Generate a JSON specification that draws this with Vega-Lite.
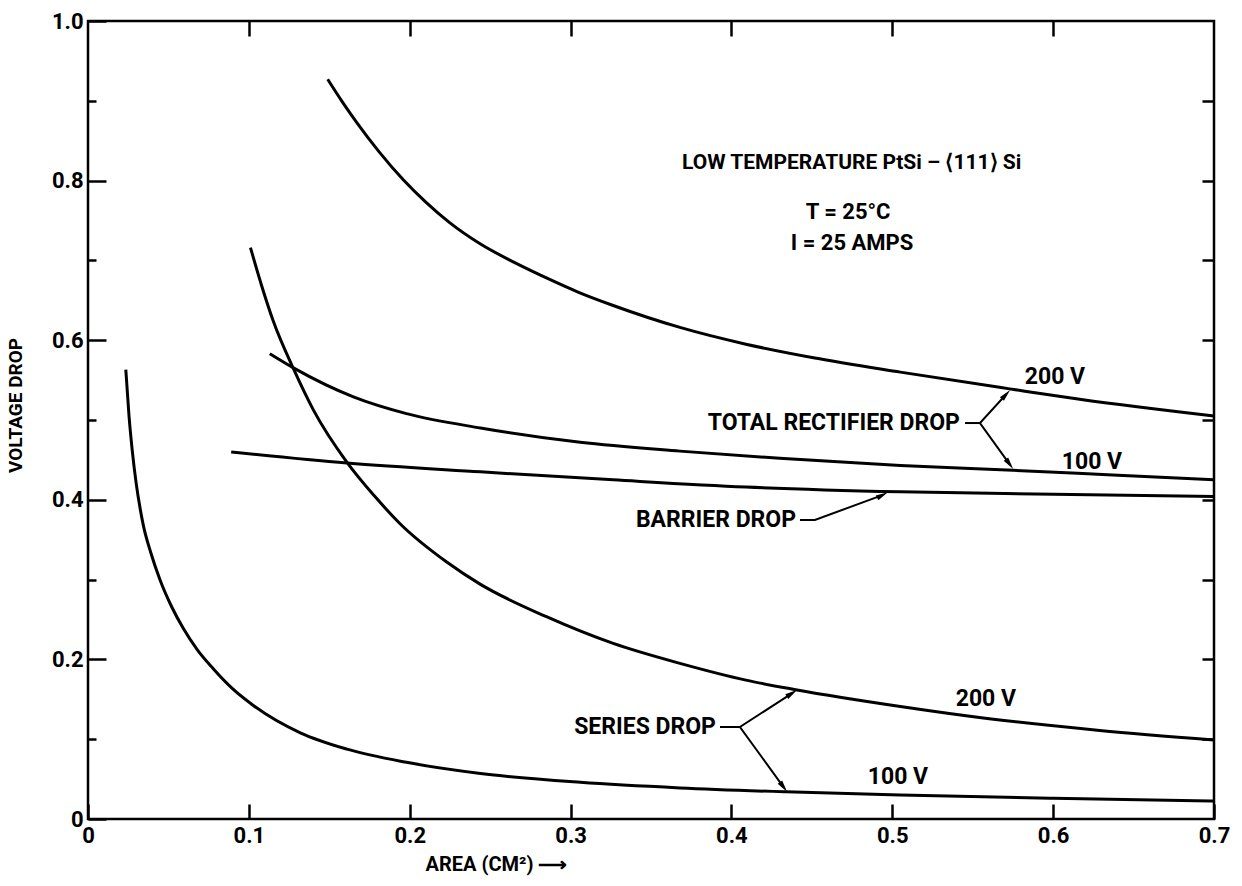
{
  "$schema": "https://vega.github.io/schema/vega-lite/v6.json",
  "width": 1126,
  "height": 798,
  "autosize": {"type": "none"},
  "padding": {"left": 88, "top": 21, "right": 28, "bottom": 67},
  "background": "white",
  "config": {
    "view": {"stroke": "black", "strokeWidth": 2.5},
    "font": "Roboto",
    "axis": {"grid": false, "domain": false, "tickColor": "black", "tickWidth": 2.5, "labelColor": "black", "titleColor": "black"}
  },
  "datasets": {
    "curves": [
      {"curve": "total_200", "x": 0.149, "y": 0.927},
      {"curve": "total_200", "x": 0.158, "y": 0.899},
      {"curve": "total_200", "x": 0.167, "y": 0.873},
      {"curve": "total_200", "x": 0.181, "y": 0.836},
      {"curve": "total_200", "x": 0.196, "y": 0.801},
      {"curve": "total_200", "x": 0.210, "y": 0.773},
      {"curve": "total_200", "x": 0.225, "y": 0.747},
      {"curve": "total_200", "x": 0.244, "y": 0.7205},
      {"curve": "total_200", "x": 0.265, "y": 0.6975},
      {"curve": "total_200", "x": 0.285, "y": 0.678},
      {"curve": "total_200", "x": 0.305, "y": 0.660},
      {"curve": "total_200", "x": 0.3265, "y": 0.6435},
      {"curve": "total_200", "x": 0.368, "y": 0.616},
      {"curve": "total_200", "x": 0.409, "y": 0.595},
      {"curve": "total_200", "x": 0.451, "y": 0.578},
      {"curve": "total_200", "x": 0.505, "y": 0.560},
      {"curve": "total_200", "x": 0.573, "y": 0.539},
      {"curve": "total_200", "x": 0.6165, "y": 0.526},
      {"curve": "total_200", "x": 0.7, "y": 0.505},

      {"curve": "total_100", "x": 0.113, "y": 0.583},
      {"curve": "total_100", "x": 0.128, "y": 0.565},
      {"curve": "total_100", "x": 0.165, "y": 0.529},
      {"curve": "total_100", "x": 0.198, "y": 0.508},
      {"curve": "total_100", "x": 0.244, "y": 0.490},
      {"curve": "total_100", "x": 0.306, "y": 0.472},
      {"curve": "total_100", "x": 0.368, "y": 0.461},
      {"curve": "total_100", "x": 0.430, "y": 0.452},
      {"curve": "total_100", "x": 0.505, "y": 0.443},
      {"curve": "total_100", "x": 0.575, "y": 0.437},
      {"curve": "total_100", "x": 0.637, "y": 0.431},
      {"curve": "total_100", "x": 0.7, "y": 0.425},

      {"curve": "barrier", "x": 0.089, "y": 0.460},
      {"curve": "barrier", "x": 0.161, "y": 0.446},
      {"curve": "barrier", "x": 0.244, "y": 0.435},
      {"curve": "barrier", "x": 0.3265, "y": 0.425},
      {"curve": "barrier", "x": 0.409, "y": 0.416},
      {"curve": "barrier", "x": 0.505, "y": 0.410},
      {"curve": "barrier", "x": 0.6, "y": 0.407},
      {"curve": "barrier", "x": 0.7, "y": 0.404},

      {"curve": "series_200", "x": 0.101, "y": 0.716},
      {"curve": "series_200", "x": 0.108, "y": 0.668},
      {"curve": "series_200", "x": 0.115, "y": 0.625},
      {"curve": "series_200", "x": 0.128, "y": 0.563},
      {"curve": "series_200", "x": 0.140, "y": 0.513},
      {"curve": "series_200", "x": 0.161, "y": 0.447},
      {"curve": "series_200", "x": 0.178, "y": 0.405},
      {"curve": "series_200", "x": 0.194, "y": 0.370},
      {"curve": "series_200", "x": 0.223, "y": 0.322},
      {"curve": "series_200", "x": 0.244, "y": 0.294},
      {"curve": "series_200", "x": 0.285, "y": 0.2535},
      {"curve": "series_200", "x": 0.3265, "y": 0.220},
      {"curve": "series_200", "x": 0.368, "y": 0.195},
      {"curve": "series_200", "x": 0.409, "y": 0.174},
      {"curve": "series_200", "x": 0.440, "y": 0.162},
      {"curve": "series_200", "x": 0.505, "y": 0.141},
      {"curve": "series_200", "x": 0.559, "y": 0.126},
      {"curve": "series_200", "x": 0.629, "y": 0.111},
      {"curve": "series_200", "x": 0.7, "y": 0.099},

      {"curve": "series_100", "x": 0.0235, "y": 0.563},
      {"curve": "series_100", "x": 0.0255, "y": 0.505},
      {"curve": "series_100", "x": 0.0275, "y": 0.462},
      {"curve": "series_100", "x": 0.030, "y": 0.420},
      {"curve": "series_100", "x": 0.0325, "y": 0.388},
      {"curve": "series_100", "x": 0.0344, "y": 0.368},
      {"curve": "series_100", "x": 0.039, "y": 0.334},
      {"curve": "series_100", "x": 0.0448, "y": 0.2995},
      {"curve": "series_100", "x": 0.052, "y": 0.266},
      {"curve": "series_100", "x": 0.0592, "y": 0.239},
      {"curve": "series_100", "x": 0.068, "y": 0.212},
      {"curve": "series_100", "x": 0.078, "y": 0.188},
      {"curve": "series_100", "x": 0.090, "y": 0.163},
      {"curve": "series_100", "x": 0.103, "y": 0.142},
      {"curve": "series_100", "x": 0.132, "y": 0.108},
      {"curve": "series_100", "x": 0.161, "y": 0.0875},
      {"curve": "series_100", "x": 0.198, "y": 0.071},
      {"curve": "series_100", "x": 0.244, "y": 0.057},
      {"curve": "series_100", "x": 0.306, "y": 0.046},
      {"curve": "series_100", "x": 0.368, "y": 0.039},
      {"curve": "series_100", "x": 0.434, "y": 0.034},
      {"curve": "series_100", "x": 0.505, "y": 0.030},
      {"curve": "series_100", "x": 0.6, "y": 0.026},
      {"curve": "series_100", "x": 0.7, "y": 0.0226}
    ],
    "leaders": [
      {"seg": "total_dash", "o": 0, "x": 0.5452, "y": 0.4962},
      {"seg": "total_dash", "o": 1, "x": 0.5545, "y": 0.4962},
      {"seg": "total_fork", "o": 0, "x": 0.5707, "y": 0.5320},
      {"seg": "total_fork", "o": 1, "x": 0.5545, "y": 0.4962},
      {"seg": "total_fork", "o": 2, "x": 0.5729, "y": 0.4447},
      {"seg": "barrier", "o": 0, "x": 0.4426, "y": 0.3747},
      {"seg": "barrier", "o": 1, "x": 0.4519, "y": 0.3747},
      {"seg": "barrier", "o": 2, "x": 0.4939, "y": 0.4059},
      {"seg": "series_dash", "o": 0, "x": 0.3929, "y": 0.1153},
      {"seg": "series_dash", "o": 1, "x": 0.4053, "y": 0.1153},
      {"seg": "series_fork", "o": 0, "x": 0.4376, "y": 0.1575},
      {"seg": "series_fork", "o": 1, "x": 0.4053, "y": 0.1153},
      {"seg": "series_fork", "o": 2, "x": 0.4324, "y": 0.0400}
    ],
    "heads": [
      {"head": "total_200", "x": 0.5707, "y": 0.5320},
      {"head": "total_100", "x": 0.5729, "y": 0.4447},
      {"head": "barrier", "x": 0.4939, "y": 0.4059},
      {"head": "series_200", "x": 0.4376, "y": 0.1575},
      {"head": "series_100", "x": 0.4324, "y": 0.0400}
    ],
    "callouts": [
      {"text": "TOTAL RECTIFIER DROP", "x": 0.5433, "y": 0.4962},
      {"text": "BARRIER DROP", "x": 0.4414, "y": 0.3747},
      {"text": "SERIES DROP", "x": 0.3916, "y": 0.1153}
    ],
    "voltages": [
      {"text": "200 V", "x": 0.6011, "y": 0.5539},
      {"text": "100 V", "x": 0.6241, "y": 0.4474},
      {"text": "200 V", "x": 0.5582, "y": 0.1504},
      {"text": "100 V", "x": 0.5035, "y": 0.0526}
    ],
    "conditions": [
      {"text": "T = 25°C", "x": 0.4725, "y": 0.7607},
      {"text": "I = 25 AMPS", "x": 0.475, "y": 0.7218}
    ],
    "heading": [
      {"text": "LOW TEMPERATURE PtSi – ⟨111⟩ Si", "x": 0.3693, "y": 0.822}
    ]
  },
  "resolve": {"axis": {"x": "independent", "y": "independent"}},
  "layer": [
    {
      "data": {"name": "curves"},
      "mark": {"type": "line", "color": "black", "strokeWidth": 3, "interpolate": "monotone"},
      "encoding": {
        "x": {
          "field": "x", "type": "quantitative",
          "scale": {"domain": [0, 0.7], "nice": false, "zero": false},
          "axis": {
            "orient": "bottom",
            "values": [0, 0.1, 0.2, 0.3, 0.4, 0.5, 0.6, 0.7],
            "labelExpr": "datum.value == 0 ? '0' : format(datum.value, '.1f')",
            "tickSize": -15,
            "labelPadding": 21,
            "labelFont": "Roboto",
            "labelFontWeight": "bold",
            "labelFontSize": 22,
            "labelFlush": false,
            "title": "AREA (CM²)  ⟶",
            "titleFont": "Roboto",
            "titleFontWeight": "bold",
            "titleFontSize": 20,
            "titleAlign": "left",
            "titleAnchor": "start",
            "titleBaseline": "middle",
            "titleX": 337,
            "titleY": 45
          }
        },
        "y": {
          "field": "y", "type": "quantitative",
          "scale": {"domain": [0, 1], "nice": false, "zero": false},
          "axis": {
            "orient": "left",
            "values": [0, 0.1, 0.2, 0.3, 0.4, 0.5, 0.6, 0.7, 0.8, 0.9, 1.0],
            "labelExpr": "round(datum.value * 10) % 2 == 0 ? (datum.value == 0 ? '0' : format(datum.value, '.1f')) : ''",
            "tickSize": {"condition": {"test": "round(datum.value * 10) % 2 == 0", "value": -18}, "value": -8},
            "labelPadding": {"condition": {"test": "round(datum.value * 10) % 2 == 0", "value": 23}, "value": 13},
            "labelFont": "Roboto",
            "labelFontWeight": "bold",
            "labelFontSize": 22,
            "labelFlush": false,
            "title": "VOLTAGE DROP",
            "titleFont": "Roboto",
            "titleFontWeight": "bold",
            "titleFontSize": 19,
            "titleAngle": -90,
            "titleAlign": "center",
            "titleBaseline": "middle",
            "titleX": -73,
            "titleY": 384
          }
        },
        "detail": {"field": "curve"}
      }
    },
    {
      "data": {"name": "curves"},
      "mark": {"type": "point", "opacity": 0},
      "encoding": {
        "x": {
          "field": "x", "type": "quantitative",
          "axis": {"orient": "top", "values": [0.1, 0.2, 0.3, 0.4, 0.5, 0.6], "tickSize": -15, "labels": false, "title": null}
        },
        "y": {
          "field": "y", "type": "quantitative",
          "axis": {"orient": "right", "values": [0.1, 0.2, 0.3, 0.4, 0.5, 0.6, 0.7, 0.8, 0.9], "tickSize": -12, "labels": false, "title": null}
        }
      }
    },
    {
      "data": {"name": "leaders"},
      "mark": {"type": "line", "color": "black", "strokeWidth": 2},
      "encoding": {
        "x": {"field": "x", "type": "quantitative", "axis": null},
        "y": {"field": "y", "type": "quantitative", "axis": null},
        "detail": {"field": "seg"},
        "order": {"field": "o"}
      }
    },
    {
      "data": {"name": "heads"},
      "transform": [{"filter": "datum.head == 'total_200'"}],
      "mark": {"type": "point", "shape": "M0,-1L0.45,1L-0.45,1Z", "filled": true, "color": "black", "opacity": 1, "size": 150, "angle": 42},
      "encoding": {"x": {"field": "x", "type": "quantitative", "axis": null}, "y": {"field": "y", "type": "quantitative", "axis": null}}
    },
    {
      "data": {"name": "heads"},
      "transform": [{"filter": "datum.head == 'total_100'"}],
      "mark": {"type": "point", "shape": "M0,-1L0.45,1L-0.45,1Z", "filled": true, "color": "black", "opacity": 1, "size": 150, "angle": 144},
      "encoding": {"x": {"field": "x", "type": "quantitative", "axis": null}, "y": {"field": "y", "type": "quantitative", "axis": null}}
    },
    {
      "data": {"name": "heads"},
      "transform": [{"filter": "datum.head == 'barrier'"}],
      "mark": {"type": "point", "shape": "M0,-1L0.45,1L-0.45,1Z", "filled": true, "color": "black", "opacity": 1, "size": 150, "angle": 63},
      "encoding": {"x": {"field": "x", "type": "quantitative", "axis": null}, "y": {"field": "y", "type": "quantitative", "axis": null}}
    },
    {
      "data": {"name": "heads"},
      "transform": [{"filter": "datum.head == 'series_200'"}],
      "mark": {"type": "point", "shape": "M0,-1L0.45,1L-0.45,1Z", "filled": true, "color": "black", "opacity": 1, "size": 150, "angle": 57},
      "encoding": {"x": {"field": "x", "type": "quantitative", "axis": null}, "y": {"field": "y", "type": "quantitative", "axis": null}}
    },
    {
      "data": {"name": "heads"},
      "transform": [{"filter": "datum.head == 'series_100'"}],
      "mark": {"type": "point", "shape": "M0,-1L0.45,1L-0.45,1Z", "filled": true, "color": "black", "opacity": 1, "size": 150, "angle": 144},
      "encoding": {"x": {"field": "x", "type": "quantitative", "axis": null}, "y": {"field": "y", "type": "quantitative", "axis": null}}
    },
    {
      "data": {"name": "callouts"},
      "mark": {"type": "text", "align": "right", "baseline": "middle", "font": "Roboto", "fontWeight": "bold", "fontSize": 23, "color": "black", "dx": -2},
      "encoding": {"x": {"field": "x", "type": "quantitative", "axis": null}, "y": {"field": "y", "type": "quantitative", "axis": null}, "text": {"field": "text"}}
    },
    {
      "data": {"name": "voltages"},
      "mark": {"type": "text", "align": "center", "baseline": "middle", "font": "Roboto", "fontWeight": "bold", "fontSize": 23, "color": "black"},
      "encoding": {"x": {"field": "x", "type": "quantitative", "axis": null}, "y": {"field": "y", "type": "quantitative", "axis": null}, "text": {"field": "text"}}
    },
    {
      "data": {"name": "conditions"},
      "mark": {"type": "text", "align": "center", "baseline": "middle", "font": "Roboto", "fontWeight": "bold", "fontSize": 22, "color": "black"},
      "encoding": {"x": {"field": "x", "type": "quantitative", "axis": null}, "y": {"field": "y", "type": "quantitative", "axis": null}, "text": {"field": "text"}}
    },
    {
      "data": {"name": "heading"},
      "mark": {"type": "text", "align": "left", "baseline": "middle", "font": "Roboto", "fontWeight": "bold", "fontSize": 21, "color": "black"},
      "encoding": {"x": {"field": "x", "type": "quantitative", "axis": null}, "y": {"field": "y", "type": "quantitative", "axis": null}, "text": {"field": "text"}}
    }
  ]
}
